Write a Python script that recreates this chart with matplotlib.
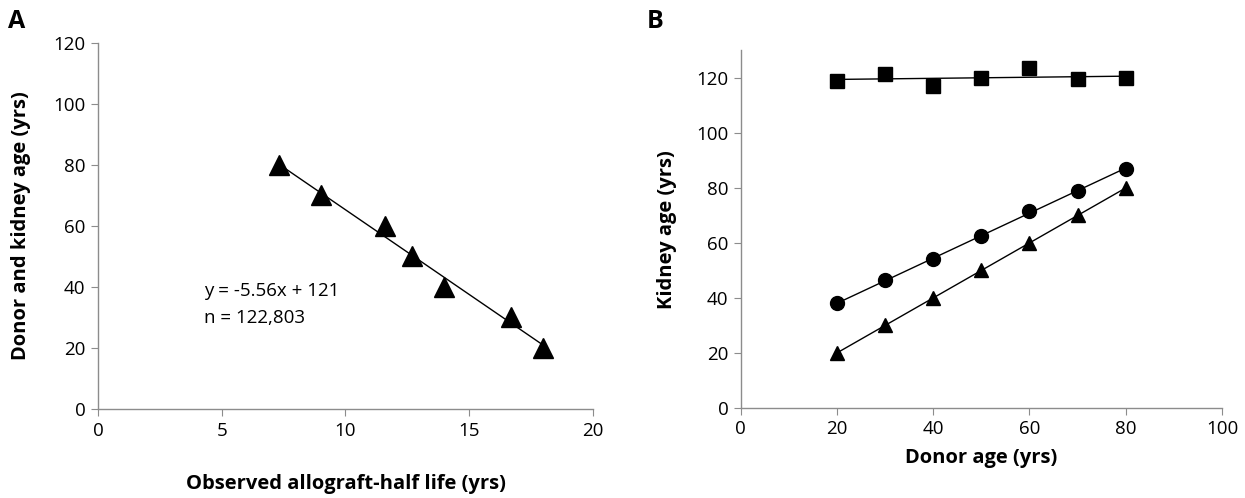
import numpy as np
import matplotlib.pyplot as plt

plt.rcParams['font.family'] = ['Open Sans', 'DejaVu Sans']

# panel A
half_life = [7.3, 9.0, 11.6, 12.7, 14.0, 16.7, 18.0]
donor_kidney_age = [80, 70, 60, 50, 40, 30, 20]

# panel B
donor_age = [20, 30, 40, 50, 60, 70, 80]
squares = [119, 121.5, 117, 120, 123.5, 119.5, 120]
circles = [38, 46.5, 54, 62.5, 71.5, 79, 87]
triangles = [20, 30, 40, 50, 60, 70, 80]

fig = plt.figure(figsize=(12.45, 4.98), dpi=100)
axA = fig.add_axes([0.0787, 0.1787, 0.3976, 0.735])
axB = fig.add_axes([0.595, 0.181, 0.3865, 0.7176])

gray = '#8c8c8c'
for ax in (axA, axB):
    for s in ('top', 'right'):
        ax.spines[s].set_visible(False)
    for s in ('left', 'bottom'):
        ax.spines[s].set_color(gray)
        ax.spines[s].set_linewidth(1.0)
    ax.tick_params(direction='out', color=gray, length=5, labelsize=13.5, pad=4)

# A
k, b = np.polyfit(half_life, donor_kidney_age, 1)
xs = np.array([half_life[0], half_life[-1]])
axA.plot(xs, k * xs + b, color='black', lw=1)
axA.plot(half_life, donor_kidney_age, '^', color='black', ms=14, ls='none')
axA.set_xlim(0, 20)
axA.set_ylim(0, 120)
axA.set_xticks([0, 5, 10, 15, 20])
axA.set_yticks(range(0, 121, 20))
axA.set_xlabel('Observed allograft-half life (yrs)', fontsize=14.5, fontweight='bold', labelpad=25)
axA.set_ylabel('Donor and kidney age (yrs)', fontsize=14.5, fontweight='bold', labelpad=16)
axA.text(4.3, 38.7, 'y = -5.56x + 121', fontsize=13.5, va='center')
axA.text(4.3, 29.8, 'n = 122,803', fontsize=13.5, va='center')

# B
for vals, mk, ms in ((squares, 's', 9.5), (circles, 'o', 10), (triangles, '^', 9.5)):
    k, b = np.polyfit(donor_age, vals, 1)
    xs = np.array([donor_age[0], donor_age[-1]])
    axB.plot(xs, k * xs + b, color='black', lw=1)
    axB.plot(donor_age, vals, mk, color='black', ms=ms, ls='none')
axB.set_xlim(0, 100)
axB.set_ylim(0, 130)
axB.set_xticks(range(0, 101, 20))
axB.set_yticks(range(0, 121, 20))
axB.set_xlabel('Donor age (yrs)', fontsize=14.5, fontweight='bold', labelpad=7)
axB.set_ylabel('Kidney age (yrs)', fontsize=14.5, fontweight='bold', labelpad=14)

fig.text(8 / 1245, 1 - 22 / 498, 'A', fontsize=18, fontweight='bold', va='center')
fig.text(647 / 1245, 1 - 22 / 498, 'B', fontsize=18, fontweight='bold', va='center')

fig.savefig('out.png', dpi=100)
